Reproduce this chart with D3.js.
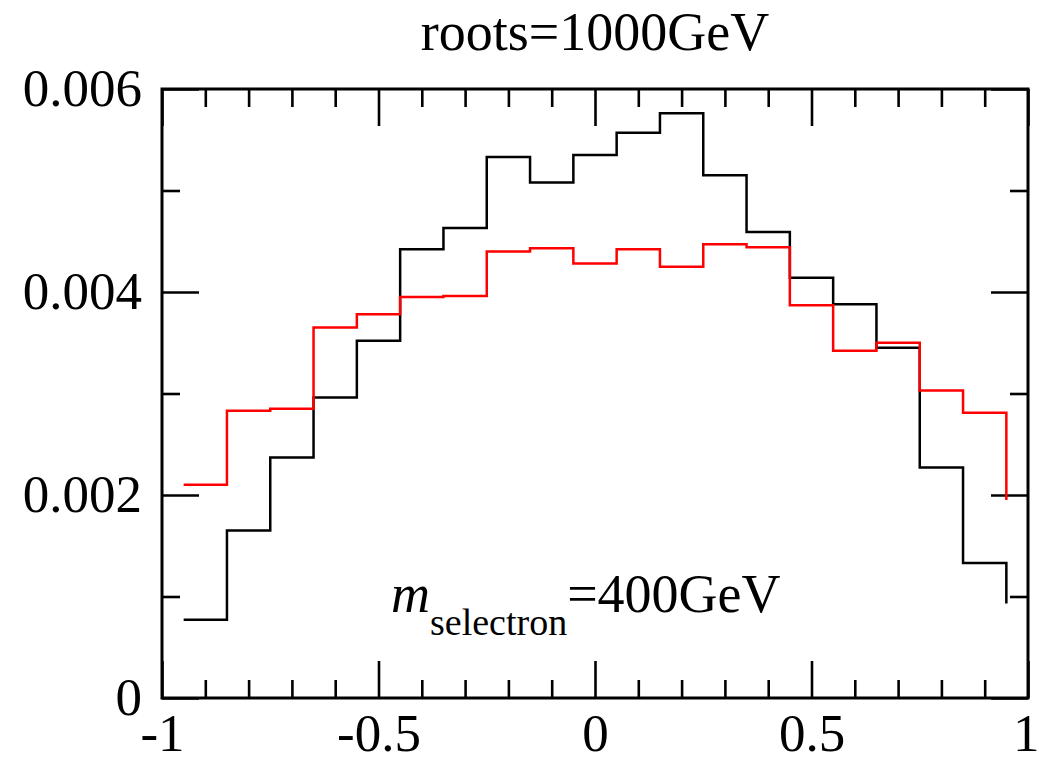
<!DOCTYPE html>
<html>
<head>
<meta charset="utf-8">
<script src="https://cdn.jsdelivr.net/npm/d3@7"></script>
<style>
  html, body { margin: 0; padding: 0; background: #fff; }
  svg { display: block; }
  text { font-family: "Liberation Serif", "Times New Roman", serif; fill: #000; }
</style>
</head>
<body>
<svg id="chart" width="1039" height="762"></svg>
<script>
// ---- data ----
// bin edges (step points), the last value is the end point of the stair line
const binEdges = [-0.95, -0.85, -0.75, -0.65, -0.55, -0.45, -0.35, -0.25, -0.15, -0.05,
                  0.05, 0.15, 0.25, 0.35, 0.45, 0.55, 0.65, 0.75, 0.85, 0.95];
const blackValues = [0.00077, 0.00165, 0.00237, 0.00296, 0.00352, 0.00442, 0.00463, 0.00533, 0.00508, 0.00535,
                     0.00557, 0.00576, 0.00515, 0.00459, 0.00414, 0.00388, 0.00345, 0.00227, 0.00133, 0.00093];
const redValues   = [0.00210, 0.00283, 0.00285, 0.00365, 0.00378, 0.00395, 0.00396, 0.00440, 0.00443, 0.00428,
                     0.00442, 0.00425, 0.00447, 0.00444, 0.00387, 0.00342, 0.00350, 0.00303, 0.00281, 0.00195];
const xMajorTicks = [-1, -0.5, 0, 0.5, 1];
const xTickLabels = ["-1", "-0.5", "0", "0.5", "1"];
const xMinorTicks = [-0.9, -0.8, -0.7, -0.6, -0.4, -0.3, -0.2, -0.1, 0.1, 0.2, 0.3, 0.4, 0.6, 0.7, 0.8, 0.9];
const yMajorTicks = [0, 0.002, 0.004, 0.006];
const yTickLabels = ["0", "0.002", "0.004", "0.006"];
const yMinorTicks = [0.001, 0.003, 0.005];
const titleText = "roots=1000GeV";

// ---- layout ----
const svg = d3.select("#chart");
const margin = {left: 162, top: 89, right: 11, bottom: 64};
const W = 1039 - margin.left - margin.right;
const H = 762 - margin.top - margin.bottom;
const g = svg.append("g").attr("transform", `translate(${margin.left},${margin.top})`);

const x = d3.scaleLinear().domain([-1, 1]).range([0, W]);
const y = d3.scaleLinear().domain([0, 0.006]).range([H, 0]);

const MAJ = 37, MIN = 18, FS = 53;

function styleAxis(sel) {
  sel.select(".domain").remove();
  sel.selectAll(".tick line").attr("stroke", "#000").attr("stroke-width", 2.6);
  sel.selectAll("text").style("font-size", FS + "px").style("font-family", '"Liberation Serif", serif').attr("fill", "#000");
}

// bottom
g.append("g").attr("transform", `translate(0,${H})`)
  .call(d3.axisBottom(x).tickValues(xMinorTicks).tickSize(-MIN).tickFormat(""))
  .call(styleAxis);
const xMajorAxis = g.append("g").attr("transform", `translate(0,${H})`)
  .call(d3.axisBottom(x).tickValues(xMajorTicks).tickSize(-MAJ).tickPadding(15)
        .tickFormat((d, i) => xTickLabels[i]))
  .call(styleAxis);
// keep the right-most label inside the picture
xMajorAxis.selectAll(".tick text").filter(d => d === 1)
  .attr("text-anchor", "end").attr("x", 1039 - margin.left - W);
// top
g.append("g")
  .call(d3.axisTop(x).tickValues(xMinorTicks).tickSize(-MIN).tickFormat(""))
  .call(styleAxis);
g.append("g")
  .call(d3.axisTop(x).tickValues(xMajorTicks).tickSize(-MAJ).tickFormat(""))
  .call(styleAxis);
// left
g.append("g")
  .call(d3.axisLeft(y).tickValues(yMinorTicks).tickSize(-MIN).tickFormat(""))
  .call(styleAxis);
g.append("g")
  .call(d3.axisLeft(y).tickValues(yMajorTicks).tickSize(-MAJ).tickPadding(20)
        .tickFormat((d, i) => yTickLabels[i]))
  .call(styleAxis);
// right
g.append("g").attr("transform", `translate(${W},0)`)
  .call(d3.axisRight(y).tickValues(yMinorTicks).tickSize(-MIN).tickFormat(""))
  .call(styleAxis);
g.append("g").attr("transform", `translate(${W},0)`)
  .call(d3.axisRight(y).tickValues(yMajorTicks).tickSize(-MAJ).tickFormat(""))
  .call(styleAxis);

// frame
g.append("rect").attr("x", 0).attr("y", 0).attr("width", W).attr("height", H)
  .attr("fill", "none").attr("stroke", "#000").attr("stroke-width", 3);

// stair lines
const line = d3.line().curve(d3.curveStepAfter)
  .x(d => x(d[0])).y(d => y(d[1]));
g.append("path").datum(binEdges.map((e, i) => [e, blackValues[i]]))
  .attr("d", line).attr("fill", "none").attr("stroke", "#000").attr("stroke-width", 2.5);
g.append("path").datum(binEdges.map((e, i) => [e, redValues[i]]))
  .attr("d", line).attr("fill", "none").attr("stroke", "#ff0000").attr("stroke-width", 2.5);

// title
svg.append("text").attr("x", margin.left + W / 2).attr("y", 50)
  .attr("text-anchor", "middle").style("font-size", "54px").text(titleText);

// annotation
const ann = svg.append("text").attr("x", 391).attr("y", 612).style("font-size", "54px");
ann.append("tspan").style("font-style", "italic").text("m");
ann.append("tspan").attr("dy", 23).style("font-size", "38px").text("selectron");
ann.append("tspan").attr("dy", -23).text("=400GeV");
</script>
</body>
</html>
